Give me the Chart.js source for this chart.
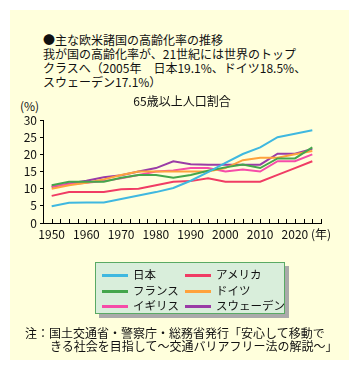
<!DOCTYPE html>
<html lang="ja">
<head>
<meta charset="UTF-8">
<title>主な欧米諸国の高齢化率の推移</title>
<script src="https://cdn.jsdelivr.net/npm/chart.js"></script>
<style>
    body {
        margin: 0;
        background: #ffffff;
        font-family: "Noto Sans CJK JP", sans-serif;
        color: #111;
    }
    #wrap {
        position: relative;
        width: 358px;
        height: 371px;
    }
    #panel {
        position: absolute;
        left: 10px;
        top: 10px;
        width: 339px;
        height: 350px;
        background: #ffffdc;
    }
    canvas {
        position: absolute;
        left: 0;
        top: 0;
    }
    .txt {
        position: absolute;
        font-size: 12px;
        line-height: 14px;
        white-space: nowrap;
    }
    #legend {
        position: absolute;
        left: 95px;
        top: 262px;
        width: 188px;
        height: 50px;
        background: #d9eedb;
        border: 1.5px solid #5aaa64;
        box-shadow: 4px 4px 0 #aaaaaa;
    }
    .item {
        position: absolute;
        font-size: 11.5px;
        line-height: 14px;
        white-space: nowrap;
    }
    .item span {
        display: inline-block;
        width: 26px;
        height: 3px;
        margin-right: 5px;
        vertical-align: middle;
    }
</style>
</head>
<body>
<div id="wrap">
    <div id="panel"></div>
    <div class="txt" style="left:43px;top:33px">●主な欧米諸国の高齢化率の推移</div>
    <div class="txt" style="left:43px;top:47px">我が国の高齢化率が、21世紀には世界のトップ</div>
    <div class="txt" style="left:43px;top:61px">クラスへ（2005年　日本19.1%、ドイツ18.5%、</div>
    <div class="txt" style="left:43px;top:75px">スウェーデン17.1%）</div>
    <div class="txt" style="left:20px;top:99px">(%)</div>
    <canvas id="grafico" width="358" height="371"></canvas>
    <div id="legend"></div>
    <div class="txt" style="left:25px;top:326px">注：国土交通省・警察庁・総務省発行「安心して移動で</div>
    <div class="txt" style="left:50px;top:339px">きる社会を目指して～交通バリアフリー法の解説～」</div>
</div>

<script>
    const years = [1950, 1955, 1960, 1965, 1970, 1975, 1980, 1985, 1990, 1995, 2000, 2005, 2010, 2015, 2020, 2025];
    const names = ['日本', 'アメリカ', 'フランス', 'ドイツ', 'イギリス', 'スウェーデン'];
    const colors = ['#3fb8e0', '#f03c64', '#44a64c', '#ffa23c', '#f64ca8', '#9a3ca6'];

    const japan   = [4.9, 5.9, 6, 6, 7, 8, 9, 10.2, 12.3, 14.8, 17.5, 20.1, 22, 25, 26, 27];
    const america = [7.9, 9, 9, 9, 9.8, 10, 11, 12, 12.2, 13, 12, 12, 12, 14, 16, 18];
    const france  = [11, 12, 12, 12, 13.2, 14, 14, 13.2, 14, 15.2, 16.2, 17, 16, 18.8, 18.8, 22];
    const germany = [10, 11, 11.7, 12.7, 14, 15, 15, 15, 15, 15, 16, 18.3, 19, 19, 20, 21];
    const uk      = [10.7, 11.3, 11.7, 12.2, 13, 14, 15, 15.3, 16, 16, 15, 15.6, 15, 18, 18, 20];
    const sweden  = [10.5, 11.5, 12.3, 13.3, 13.9, 15, 16, 18, 17.1, 17, 17, 17, 17, 20.2, 20.2, 21.6];

    const xLabelYears = [1950, 1960, 1970, 1980, 1990, 2000, 2010, 2020];

    const series = [japan, america, france, germany, uk, sweden];

    Chart.defaults.font.family = '"Noto Sans CJK JP", sans-serif';
    Chart.defaults.font.size = 12;
    Chart.defaults.color = '#111';

    // x軸の目盛り線は内側（上向き）
    const innerTicks = {
        id: 'innerTicks',
        afterDraw(chart) {
            const sx = chart.scales.x;
            const ctx = chart.ctx;
            const bottom = chart.chartArea.bottom;
            ctx.save();
            ctx.strokeStyle = '#000';
            ctx.lineWidth = 1;
            sx.ticks.forEach(t => {
                const px = Math.round(sx.getPixelForValue(t.value)) + 0.5;
                ctx.beginPath();
                ctx.moveTo(px, bottom);
                ctx.lineTo(px, bottom - 4);
                ctx.stroke();
            });
            ctx.restore();
        }
    };

    const ctx = document.getElementById('grafico').getContext('2d');
    const chart = new Chart(ctx, {
        type: 'line',
        data: {
            datasets: names.map((n, i) => ({
                label: n,
                data: years.map((y, j) => ({ x: y, y: series[i][j] })),
                borderColor: colors[i],
                backgroundColor: colors[i],
                borderWidth: 2,
                pointRadius: 0,
                tension: 0,
                fill: false
            }))
        },
        options: {
            responsive: false,
            animation: false,
            devicePixelRatio: 1,
            layout: {
                padding: { left: 0, top: 94, right: 37, bottom: 128 }
            },
            plugins: {
                legend: { display: false },
                tooltip: { enabled: false },
                title: {
                    display: true,
                    text: '65歳以上人口割合',
                    fullSize: false,
                    color: '#111',
                    font: { size: 12, weight: 'normal' },
                    padding: { top: 0, bottom: 11.6 }
                }
            },
            scales: {
                x: {
                    type: 'linear',
                    min: 1947.5,
                    max: 2027.5,
                    afterFit: s => { s.height = 20; },
                    grid: { drawOnChartArea: false, drawTicks: false },
                    border: { color: '#000', width: 1 },
                    ticks: {
                        stepSize: 2.5,
                        autoSkip: false,
                        maxRotation: 0,
                        padding: 4,
                        color: '#111',
                        callback: v => xLabelYears.includes(v) ? String(v) : (v === 2027.5 ? '(年)' : '')
                    }
                },
                y: {
                    min: 0,
                    max: 30,
                    afterFit: s => { s.width = 43; },
                    grid: { drawOnChartArea: false, tickLength: 3, color: '#000' },
                    border: { color: '#000', width: 1 },
                    ticks: { stepSize: 5, autoSkip: false, padding: 3, color: '#111' }
                }
            }
        },
        plugins: [innerTicks]
    });

    // 凡例（2列×3行）
    const legend = document.getElementById('legend');
    chart.data.datasets.forEach((ds, i) => {
        const el = document.createElement('div');
        el.className = 'item';
        el.style.left = (i % 2 === 0 ? 6 : 89) + 'px';
        el.style.top = (4 + Math.floor(i / 2) * 15.5) + 'px';
        el.innerHTML = '<span style="background:' + ds.borderColor + '"></span>' + ds.label;
        legend.appendChild(el);
    });
</script>
</body>
</html>
